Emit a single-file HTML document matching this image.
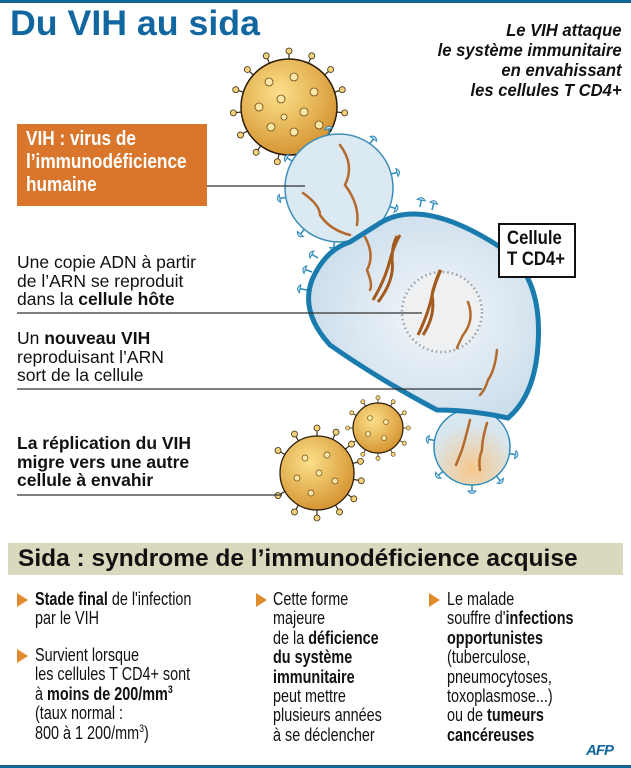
<!DOCTYPE html>
<html><head><meta charset="utf-8"><style>
body{margin:0;width:631px;height:768px;position:relative;overflow:hidden;background:#fff;font-family:"Liberation Sans",Arial,sans-serif;color:#111}
.a{position:absolute;white-space:nowrap}
.t{font-size:17.5px;line-height:18.5px;transform:scaleX(1.0);transform-origin:0 0}
.b{font-weight:bold}
.col{font-size:18px;line-height:19.4px;transform:scaleX(.8);transform-origin:0 0}
.tri{position:absolute;width:0;height:0;border-top:7px solid transparent;border-bottom:7px solid transparent;border-left:11px solid #e08a2e}
</style></head><body>
<div class="a" style="left:0;top:0;width:631px;height:3px;background:#0f6796"></div>
<div class="a" style="left:0;top:765px;width:631px;height:3px;background:#0f6796"></div>
<div class="a b" style="left:10px;top:4px;font-size:35px;color:#1267a0;transform:scaleX(1.02);transform-origin:0 0">Du VIH au sida</div>
<div class="a b" style="right:9px;top:20px;font-size:17.5px;line-height:20px;font-style:italic;text-align:right;transform:scaleX(.95);transform-origin:100% 0">Le VIH attaque<br>le système immunitaire<br>en envahissant<br>les cellules T CD4+</div>

<svg class="a" style="left:0;top:0" width="631" height="540" viewBox="0 0 631 540">
<defs>
<radialGradient id="vg" cx="40%" cy="35%" r="70%"><stop offset="0" stop-color="#fbe08a"/><stop offset="1" stop-color="#d4912e"/></radialGradient>
<radialGradient id="cg" cx="55%" cy="50%" r="60%"><stop offset="0" stop-color="#f4f7fa"/><stop offset="1" stop-color="#c9dceb"/></radialGradient>
<radialGradient id="bg" cx="50%" cy="80%" r="60%"><stop offset="0" stop-color="#f6c88c"/><stop offset="1" stop-color="#d8e6ef"/></radialGradient>
<g id="sp"><line x1="0" y1="0" x2="0" y2="-8" stroke="#3a2a10" stroke-width="1.2"/><circle cx="0" cy="-9" r="3" fill="#f3d27a" stroke="#3a2a10" stroke-width=".8"/></g>
<g id="bs"><line x1="0" y1="0" x2="0" y2="-7" stroke="#2c89b8" stroke-width="1.5"/><path d="M-4,-7 Q0,-12 4,-7 Z" fill="#cfe6f3" stroke="#2c89b8"/></g>
</defs>
<g transform="translate(289,107)">
<use href="#sp" transform="rotate(0) translate(0,-47)"/><use href="#sp" transform="rotate(24) translate(0,-47)"/><use href="#sp" transform="rotate(48) translate(0,-47)"/><use href="#sp" transform="rotate(72) translate(0,-47)"/><use href="#sp" transform="rotate(96) translate(0,-47)"/><use href="#sp" transform="rotate(168) translate(0,-47)"/><use href="#sp" transform="rotate(192) translate(0,-47)"/><use href="#sp" transform="rotate(216) translate(0,-47)"/><use href="#sp" transform="rotate(240) translate(0,-47)"/><use href="#sp" transform="rotate(264) translate(0,-47)"/><use href="#sp" transform="rotate(288) translate(0,-47)"/><use href="#sp" transform="rotate(312) translate(0,-47)"/><use href="#sp" transform="rotate(336) translate(0,-47)"/>
<circle r="48" fill="url(#vg)" stroke="#2a1d08" stroke-width="1.5"/>
<g fill="#fbe7a5" stroke="#6b4a14" stroke-width=".8"><circle cx="-20" cy="-25" r="4"/><circle cx="5" cy="-30" r="4"/><circle cx="25" cy="-15" r="4"/><circle cx="-30" cy="0" r="4"/><circle cx="-8" cy="-8" r="4"/><circle cx="15" cy="5" r="4"/><circle cx="-18" cy="20" r="4"/><circle cx="5" cy="25" r="4"/><circle cx="30" cy="18" r="4"/><circle cx="-5" cy="10" r="3"/></g>
</g>
<g transform="translate(339,188)">
<use href="#bs" transform="rotate(-10) translate(0,-53)"/><use href="#bs" transform="rotate(35) translate(0,-53)"/><use href="#bs" transform="rotate(75) translate(0,-53)"/><use href="#bs" transform="rotate(110) translate(0,-53)"/><use href="#bs" transform="rotate(-60) translate(0,-53)"/><use href="#bs" transform="rotate(-100) translate(0,-53)"/><use href="#bs" transform="rotate(-140) translate(0,-53)"/><use href="#bs" transform="rotate(-175) translate(0,-53)"/>
<circle r="54" fill="#dbe9f2" stroke="#3d8fba" stroke-width="1.5"/>
</g>
<g transform="translate(472,447)"><use href="#bs" transform="rotate(-80) translate(0,-37)"/><use href="#bs" transform="rotate(-130) translate(0,-37)"/><use href="#bs" transform="rotate(180) translate(0,-37)"/><use href="#bs" transform="rotate(140) translate(0,-37)"/><use href="#bs" transform="rotate(100) translate(0,-37)"/></g>
<circle cx="472" cy="447" r="38" fill="url(#bg)" stroke="#2c89b8" stroke-width="1.5"/>
<use href="#bs" transform="translate(420,207) rotate(10)"/><use href="#bs" transform="translate(432,210) rotate(15)"/>
<use href="#bs" transform="translate(318,258) rotate(-60)"/><use href="#bs" transform="translate(312,272) rotate(-70)"/><use href="#bs" transform="translate(307,290) rotate(-80)"/>
<path d="M377,225 Q420,195 500,247 Q543,275 538,345 Q535,395 508,418 Q472,410 437,410 Q380,380 330,345 Q300,312 312,280 Q325,250 350,242 Z" fill="url(#cg)" stroke="#1a7cae" stroke-width="5"/>
<circle cx="442" cy="312" r="40" fill="#eef0f2" stroke="#9aa0a6" stroke-width="2.5" stroke-dasharray="1.5 3"/>
<g fill="none" stroke="#b46a2c" stroke-width="2.5" stroke-linecap="round">
<path d="M340,145 Q355,165 345,185 Q360,205 357,225"/>
<path d="M303,193 Q320,205 320,215 Q330,230 350,235"/>
<path d="M365,237 Q375,255 367,270 Q373,285 370,290"/>
<path d="M468,302 Q475,320 463,335 Q458,345 457,348"/>
<path d="M497,350 Q495,370 488,380 Q485,390 480,395"/>
<path d="M470,420 Q465,440 462,450 Q458,460 456,465"/>
<path d="M487,423 Q482,440 482,450 Q478,460 480,470"/>
</g>
<g stroke="#a35a1c" stroke-width="3" fill="none">
<path d="M373,300 Q385,280 390,260 Q394,245 400,235"/><path d="M378,302 Q395,280 392,260 Q392,245 397,236"/>
<path d="M418,335 Q430,310 433,290 Q436,280 440,270"/><path d="M423,335 Q436,315 432,295 Q436,280 441,270"/>
</g>
<g transform="translate(378,428)">
<use href="#sp" transform="rotate(0) translate(0,-24) scale(.7)"/><use href="#sp" transform="rotate(30) translate(0,-24) scale(.7)"/><use href="#sp" transform="rotate(60) translate(0,-24) scale(.7)"/><use href="#sp" transform="rotate(90) translate(0,-24) scale(.7)"/><use href="#sp" transform="rotate(120) translate(0,-24) scale(.7)"/><use href="#sp" transform="rotate(150) translate(0,-24) scale(.7)"/><use href="#sp" transform="rotate(180) translate(0,-24) scale(.7)"/><use href="#sp" transform="rotate(210) translate(0,-24) scale(.7)"/><use href="#sp" transform="rotate(240) translate(0,-24) scale(.7)"/><use href="#sp" transform="rotate(270) translate(0,-24) scale(.7)"/><use href="#sp" transform="rotate(300) translate(0,-24) scale(.7)"/><use href="#sp" transform="rotate(330) translate(0,-24) scale(.7)"/>
<circle r="25" fill="url(#vg)" stroke="#2a1d08" stroke-width="1.2"/>
<g fill="#fbe7a5" stroke="#6b4a14" stroke-width=".6"><circle cx="-8" cy="-10" r="2.5"/><circle cx="8" cy="-6" r="2.5"/><circle cx="-10" cy="6" r="2.5"/><circle cx="6" cy="10" r="2.5"/></g>
</g>
<g transform="translate(317,473)">
<use href="#sp" transform="rotate(0) translate(0,-36)"/><use href="#sp" transform="rotate(25) translate(0,-36)"/><use href="#sp" transform="rotate(50) translate(0,-36)"/><use href="#sp" transform="rotate(75) translate(0,-36)"/><use href="#sp" transform="rotate(100) translate(0,-36)"/><use href="#sp" transform="rotate(125) translate(0,-36)"/><use href="#sp" transform="rotate(150) translate(0,-36)"/><use href="#sp" transform="rotate(180) translate(0,-36)"/><use href="#sp" transform="rotate(210) translate(0,-36)"/><use href="#sp" transform="rotate(240) translate(0,-36)"/><use href="#sp" transform="rotate(300) translate(0,-36)"/><use href="#sp" transform="rotate(330) translate(0,-36)"/>
<circle r="37" fill="url(#vg)" stroke="#2a1d08" stroke-width="1.3"/>
<g fill="#fbe7a5" stroke="#6b4a14" stroke-width=".7"><circle cx="-12" cy="-15" r="3"/><circle cx="10" cy="-18" r="3"/><circle cx="-20" cy="5" r="3"/><circle cx="2" cy="0" r="3"/><circle cx="18" cy="8" r="3"/><circle cx="-6" cy="20" r="3"/></g>
</g>
<g stroke="#333" stroke-width="1.3">
<line x1="207" y1="186" x2="305" y2="186"/>
<line x1="17" y1="313" x2="422" y2="313"/>
<line x1="17" y1="389" x2="482" y2="389"/>
<line x1="17" y1="495" x2="282" y2="495"/>
</g>
</svg>

<div class="a" style="left:498px;top:223px;width:74px;height:51px;border:2px solid #111;background:#fff"></div>
<div class="a b" style="left:507px;top:228px;font-size:19px;line-height:21px;transform:scaleX(.88);transform-origin:0 0">Cellule<br>T CD4+</div>

<div class="a" style="left:17px;top:124px;width:190px;height:82px;background:#d9762b"></div>
<div class="a" style="left:26px;top:128px;font-size:20px;line-height:23px;color:#fff;font-weight:bold;transform:scaleX(.86);transform-origin:0 0">VIH : virus de<br>l’immunodéficience<br>humaine</div>

<div class="a t" style="left:17px;top:253px">Une copie ADN à partir<br>de l’ARN se reproduit<br>dans la <b>cellule hôte</b></div>
<div class="a t" style="left:17px;top:329px">Un <b>nouveau VIH</b><br>reproduisant l’ARN<br>sort de la cellule</div>
<div class="a t b" style="left:17px;top:434px">La réplication du VIH<br>migre vers une autre<br>cellule à envahir</div>

<div class="a" style="left:8px;top:543px;width:615px;height:32px;background:#dad8bd"></div>
<div class="a b" style="left:18px;top:545px;font-size:24.5px;transform:scaleX(1.0);transform-origin:0 0">Sida : syndrome de l’immunodéficience acquise</div>

<div class="tri" style="left:17px;top:593px"></div>
<div class="tri" style="left:17px;top:649px"></div>
<div class="tri" style="left:256px;top:593px"></div>
<div class="tri" style="left:429px;top:593px"></div>
<div class="a col" style="left:35px;top:590px"><b>Stade final</b> de l'infection<br>par le VIH</div>
<div class="a col" style="left:35px;top:646px">Survient lorsque<br>les cellules T CD4+ sont<br>à <b>moins de 200/mm<sup style="font-size:11px;line-height:0">3</sup></b><br>(taux normal :<br>800 à 1 200/mm<sup style="font-size:11px;line-height:0">3</sup>)</div>
<div class="a col" style="left:273px;top:590px">Cette forme<br>majeure<br>de la <b>déficience<br>du système<br>immunitaire</b><br>peut mettre<br>plusieurs années<br>à se déclencher</div>
<div class="a col" style="left:447px;top:590px">Le malade<br>souffre d'<b>infections<br>opportunistes</b><br>(tuberculose,<br>pneumocytoses,<br>toxoplasmose...)<br>ou de <b>tumeurs<br>cancéreuses</b></div>
<div class="a b" style="left:586px;top:742px;font-size:15px;font-style:italic;color:#1267a0;letter-spacing:-1px">AFP</div>
</body></html>
